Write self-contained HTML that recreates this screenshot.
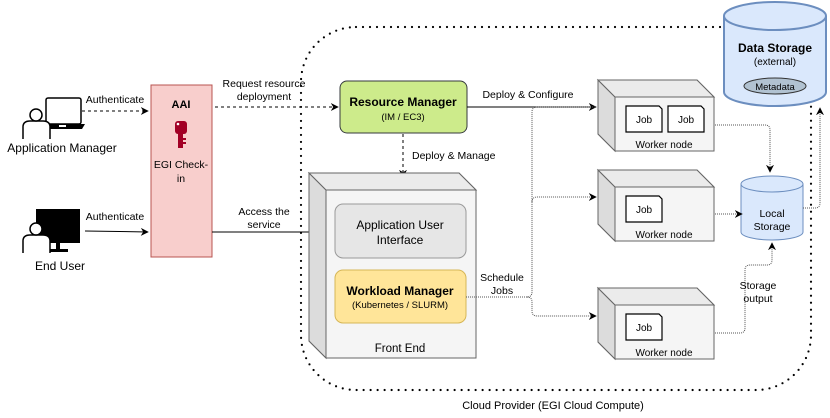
<!DOCTYPE html>
<html><head><meta charset="utf-8"><style>body{margin:0;background:#fff}svg{display:block}text{font-family:"Liberation Sans",Arial,sans-serif;fill:#000}</style></head><body>
<svg width="830" height="418" viewBox="0 0 830 418" xmlns="http://www.w3.org/2000/svg">
<defs>
<marker id="a" viewBox="0 0 10 10" refX="9" refY="5" markerWidth="8" markerHeight="8" orient="auto"><path d="M0,0 L10,5 L0,10 L3,5 z" fill="#000"/></marker>
</defs>
<!-- cloud -->
<rect x="301" y="27" width="510" height="363" rx="55" fill="none" stroke="#000" stroke-width="2.2" stroke-dasharray="0 7" stroke-linecap="round"/>
<text x="553" y="409" font-size="11" text-anchor="middle">Cloud Provider (EGI Cloud Compute)</text>

<!-- app manager icon -->
<rect x="46" y="98" width="35" height="26" rx="2" fill="#fff" stroke="#000" stroke-width="1.5"/>
<path d="M43,124 H85 L82,129 H46 z" fill="#000"/>
<rect x="59" y="125" width="7" height="2" fill="#fff"/>
<path d="M23,139 V127 Q23,121 30,121 H43 Q50,121 50,127 V139" fill="#fff" stroke="#000" stroke-width="1.5"/>
<circle cx="36" cy="115" r="6" fill="#fff" stroke="#000" stroke-width="1.5"/>
<text x="62" y="152" font-size="12" text-anchor="middle">Application Manager</text>
<!-- end user icon -->
<rect x="36" y="209" width="44" height="34" fill="#000"/>
<rect x="56" y="243" width="4" height="7" fill="#000"/>
<rect x="50" y="249" width="18" height="3" fill="#000"/>
<path d="M23,253 V241 Q23,235 30,235 H43 Q50,235 50,241 V253" fill="#fff" stroke="#000" stroke-width="1.5"/>
<circle cx="36" cy="229" r="6" fill="#fff" stroke="#000" stroke-width="1.5"/>
<text x="60" y="270" font-size="12" text-anchor="middle">End User</text>

<!-- AAI -->
<rect x="151" y="85" width="61" height="172" fill="#f8cecc" stroke="#b85450"/>
<text x="181" y="108" font-size="11" font-weight="bold" text-anchor="middle">AAI</text>
<rect x="175" y="121" width="12" height="13" rx="3" fill="#a20025"/>
<rect x="178" y="132" width="5" height="16" fill="#a20025"/>
<rect x="183" y="138" width="3" height="2" fill="#a20025"/>
<rect x="183" y="142" width="3" height="2" fill="#a20025"/>
<circle cx="178" cy="124" r="1.3" fill="#fff"/>
<text x="181" y="168" font-size="10.5" fill="#333" text-anchor="middle">EGI Check-</text>
<text x="181" y="182" font-size="10.5" fill="#333" text-anchor="middle">in</text>

<!-- arrows left -->
<line x1="82" y1="111" x2="148" y2="111" stroke="#000" stroke-dasharray="3 3" marker-end="url(#a)"/>
<text x="115" y="103" font-size="10.5" text-anchor="middle">Authenticate</text>
<line x1="85" y1="231" x2="148" y2="232" stroke="#000" marker-end="url(#a)"/>
<text x="115" y="220" font-size="10.5" text-anchor="middle">Authenticate</text>
<line x1="215" y1="107" x2="338" y2="107" stroke="#000" stroke-dasharray="3 3" marker-end="url(#a)"/>
<text x="264" y="87" font-size="10.5" text-anchor="middle">Request resource</text>
<text x="264" y="100" font-size="10.5" text-anchor="middle">deployment</text>
<line x1="212" y1="232" x2="333" y2="232" stroke="#000" marker-end="url(#a)"/>
<text x="264" y="215" font-size="10.5" text-anchor="middle">Access the</text>
<text x="264" y="228" font-size="10.5" text-anchor="middle">service</text>

<!-- Resource manager -->
<rect x="340" y="81" width="127" height="52" rx="7" fill="#cdeb8b" stroke="#36393d"/>
<text x="403" y="106" font-size="12" font-weight="bold" text-anchor="middle">Resource Manager</text>
<text x="403" y="120" font-size="9.5" fill="#333" text-anchor="middle">(IM / EC3)</text>
<line x1="403" y1="134" x2="403" y2="177" stroke="#000" stroke-dasharray="3 3" marker-end="url(#a)"/>
<text x="412" y="159" font-size="10.5">Deploy &amp; Manage</text>

<!-- Front End cube -->
<path d="M309,173 H459 L476,190 V358 H326 L309,341 z" fill="#f5f5f5" stroke="#666"/>
<path d="M309,173 L326,190 V358 L309,341 z" fill="#dcdcdc" stroke="#666"/>
<path d="M309,173 H459 L476,190 H326 z" fill="#ebebeb" stroke="#666"/>
<rect x="335" y="204" width="131" height="54" rx="8" fill="#e6e6e6" stroke="#999"/>
<text x="400" y="229" font-size="12" fill="#555" text-anchor="middle">Application User</text>
<text x="400" y="244" font-size="12" fill="#555" text-anchor="middle">Interface</text>
<rect x="335" y="270" width="131" height="53" rx="8" fill="#ffe599" stroke="#d6b656"/>
<text x="400" y="295" font-size="12" font-weight="bold" text-anchor="middle">Workload Manager</text>
<text x="400" y="308" font-size="9.5" text-anchor="middle">(Kubernetes / SLURM)</text>
<text x="400" y="352" font-size="11.5" text-anchor="middle">Front End</text>

<!-- deploy configure -->
<line x1="467" y1="107" x2="596" y2="107" stroke="#000" marker-end="url(#a)"/>
<text x="528" y="98" font-size="10.5" text-anchor="middle">Deploy &amp; Configure</text>
<path d="M466,297 H527 Q532,297 532,292 V112 Q532,107 537,107 H596" fill="none" stroke="#555" stroke-dasharray="1 1"/>
<path d="M532,202 Q532,197 537,197 H596" fill="none" stroke="#555" stroke-dasharray="1 1" marker-end="url(#a)"/>
<path d="M527,297 Q532,297 532,302 V311 Q532,316 537,316 H596" fill="none" stroke="#555" stroke-dasharray="1 1" marker-end="url(#a)"/>
<text x="502" y="281" font-size="10.5" text-anchor="middle">Schedule</text>
<text x="502" y="294" font-size="10.5" text-anchor="middle">Jobs</text>

<!-- worker nodes -->
<g id="wn">
<path d="M598,80 H697 L714,97 V151 H615 L598,134 z" fill="#f5f5f5" stroke="#666"/>
<path d="M598,80 L615,97 V151 L598,134 z" fill="#dcdcdc" stroke="#666"/>
<path d="M598,80 H697 L714,97 H615 z" fill="#ebebeb" stroke="#666"/>
</g>
<text x="664" y="148" font-size="10" fill="#555" text-anchor="middle">Worker node</text>
<use href="#wn" y="90"/>
<text x="664" y="238" font-size="10" fill="#555" text-anchor="middle">Worker node</text>
<use href="#wn" y="208"/>
<text x="664" y="356" font-size="10" fill="#555" text-anchor="middle">Worker node</text>
<g id="job">
<path d="M626,106 H659 L662,109 V132 H626 z" fill="#fff" stroke="#000" stroke-width="1.2"/>
<text x="644" y="123" font-size="10" text-anchor="middle">Job</text>
</g>
<use href="#job" x="42"/>
<use href="#job" y="90"/>
<use href="#job" y="208"/>

<!-- local storage -->
<path d="M741,184 A31,8 0 0 1 803,184 V232 A31,8 0 0 1 741,232 z" fill="#dae8fc" stroke="#6c8ebf"/>
<path d="M741,184 A31,8 0 0 0 803,184" fill="none" stroke="#6c8ebf"/>
<text x="772" y="217" font-size="10.5" text-anchor="middle">Local</text>
<text x="772" y="230" font-size="10.5" text-anchor="middle">Storage</text>
<path d="M715,125 H765 Q770,125 770,130 V172" fill="none" stroke="#555" stroke-dasharray="1 1" marker-end="url(#a)"/>
<line x1="715" y1="214" x2="742" y2="214" stroke="#555" stroke-dasharray="1 1" marker-end="url(#a)"/>
<path d="M715,333 H740 Q745,333 745,328 V270 Q745,265 750,265 H767 Q772,265 772,260 V243" fill="none" stroke="#555" stroke-dasharray="1 1" marker-end="url(#a)"/>
<text x="758" y="289" font-size="10.5" text-anchor="middle">Storage</text>
<text x="758" y="302" font-size="10.5" text-anchor="middle">output</text>
<path d="M803,208 H815 Q820,208 820,203 V108" fill="none" stroke="#555" stroke-dasharray="1 1" marker-end="url(#a)"/>

<!-- data storage -->
<path d="M724,16 A51,14 0 0 1 826,16 V92 A51,14 0 0 1 724,92 z" fill="#dae8fc" stroke="#6c8ebf" stroke-width="2"/>
<path d="M724,16 A51,14 0 0 0 826,16" fill="none" stroke="#6c8ebf" stroke-width="2"/>
<text x="775" y="52" font-size="12" font-weight="bold" text-anchor="middle">Data Storage</text>
<text x="775" y="65" font-size="10" fill="#333" text-anchor="middle">(external)</text>
<ellipse cx="775" cy="86" rx="31" ry="8" fill="#b1c2d1" stroke="#333"/>
<text x="775" y="90" font-size="9.5" fill="#222" text-anchor="middle">Metadata</text>
</svg>
</body></html>
